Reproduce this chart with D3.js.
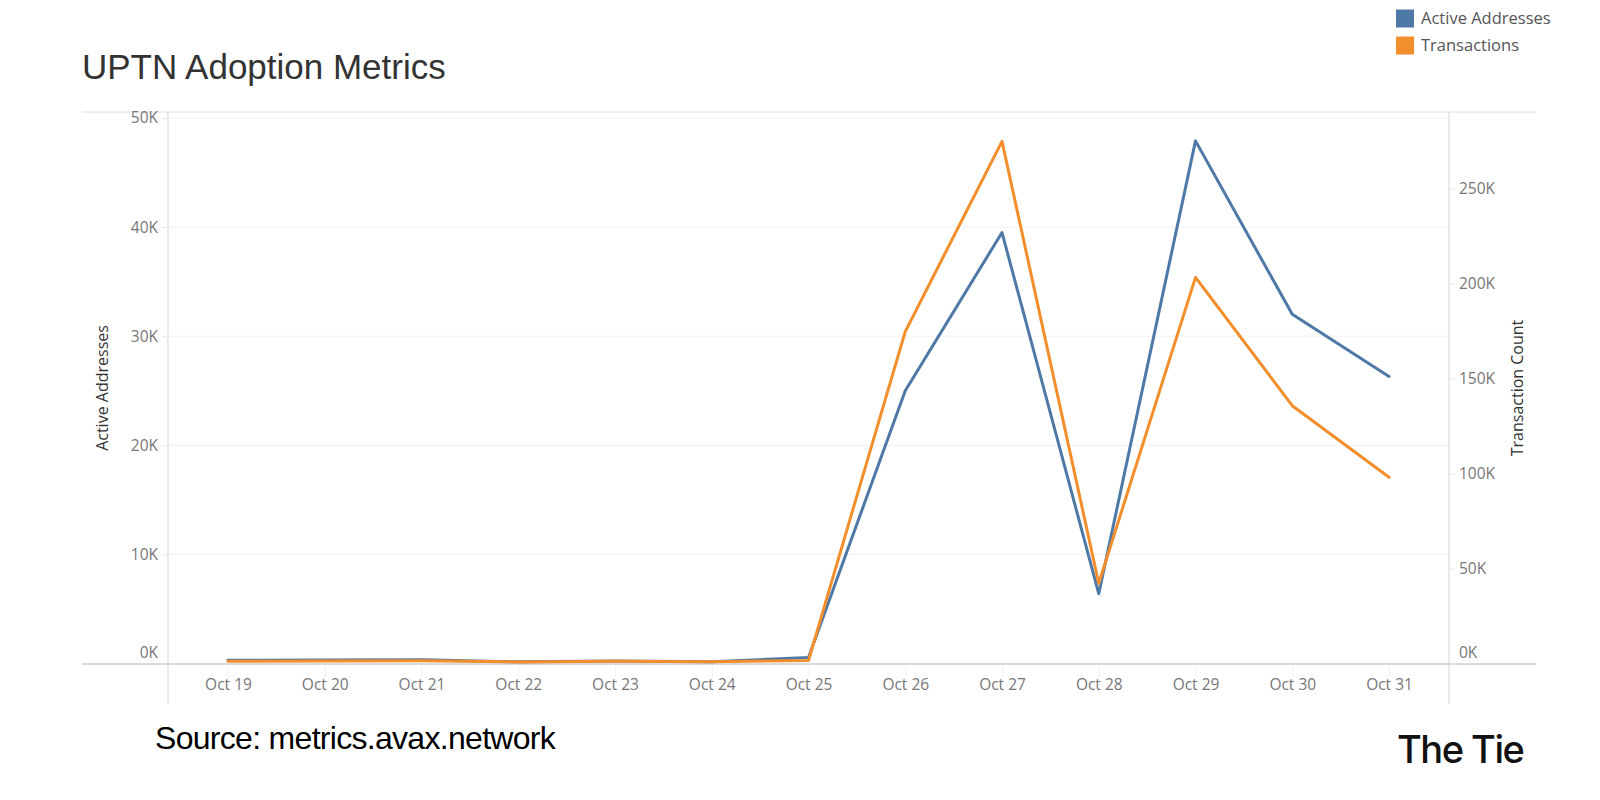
<!DOCTYPE html>
<html>
<head>
<meta charset="utf-8">
<script src="https://cdn.jsdelivr.net/npm/d3@7/dist/d3.min.js"></script>
<style>
  html, body { margin: 0; padding: 0; background: #fff; }
  svg { display: block; }
</style>
</head>
<body>
<svg id="chart" width="1600" height="800"></svg>
<script>
// ---- Data ----
const dates = ["Oct 19","Oct 20","Oct 21","Oct 22","Oct 23","Oct 24","Oct 25","Oct 26","Oct 27","Oct 28","Oct 29","Oct 30","Oct 31"];
const activeAddresses = [300, 320, 350, 150, 220, 160, 550, 25000, 39500, 6400, 47900, 32000, 26300];
const transactions = [1200, 1300, 1500, 800, 1200, 900, 1600, 174700, 274800, 42100, 203200, 135700, 98000];
const leftTicks = [0, 10000, 20000, 30000, 40000, 50000];
const rightTicks = [0, 50000, 100000, 150000, 200000, 250000];
const seriesNames = ["Active Addresses", "Transactions"];
const seriesColors = ["#4e79a7", "#f28e2b"];

// ---- Layout ----
const frameLeft = 82, frameRight = 1536;
const plotLeft = 168, plotRight = 1449;
const plotTop = 112.5, plotBottom = 663.5, axisBottom = 704;
const tickFont = "'Open Sans', Lato, sans-serif";
const tickSize = 15.5;

const svg = d3.select("#chart");

const x = d3.scalePoint().domain(dates).range([plotLeft, plotRight]).padding(0.62);
const yL = d3.scaleLinear().domain([0, 50500]).range([plotBottom, plotTop]);
const yR = d3.scaleLinear().domain([0, 290000]).range([plotBottom, plotTop]);
const fmtK = d => (d / 1000) + "K";

// Title
svg.append("text")
  .attr("x", 82).attr("y", 79)
  .attr("font-family", "'Liberation Sans', Arial, sans-serif")
  .attr("font-size", 35)
  .attr("fill", "#333")
  .text("UPTN Adoption Metrics");

// Legend
const legend = svg.append("g");
seriesNames.forEach((name, i) => {
  legend.append("rect")
    .attr("x", 1396).attr("y", 9.5 + i * 27)
    .attr("width", 18).attr("height", 18)
    .attr("fill", seriesColors[i]);
  legend.append("text")
    .attr("x", 1421).attr("y", 18.5 + i * 27)
    .attr("dy", "0.35em")
    .attr("font-family", tickFont)
    .attr("font-size", 16.5)
    .attr("fill", "#555")
    .text(name);
});

// Gridlines (left axis)
svg.append("g").selectAll("line")
  .data(leftTicks.filter(d => d > 0))
  .join("line")
  .attr("x1", plotLeft).attr("x2", plotRight)
  .attr("y1", d => yL(d)).attr("y2", d => yL(d))
  .attr("stroke", "#f0f0f0").attr("stroke-width", 1);

// Frame lines
svg.append("line").attr("x1", frameLeft).attr("x2", frameRight)
  .attr("y1", plotTop - 0.5).attr("y2", plotTop - 0.5)
  .attr("stroke", "#dcdcdc").attr("stroke-width", 1);
svg.append("line").attr("x1", plotLeft).attr("x2", plotLeft)
  .attr("y1", plotTop - 0.5).attr("y2", axisBottom)
  .attr("stroke", "#d4d4d4").attr("stroke-width", 1);
svg.append("line").attr("x1", plotRight).attr("x2", plotRight)
  .attr("y1", plotTop - 0.5).attr("y2", axisBottom)
  .attr("stroke", "#d4d4d4").attr("stroke-width", 1);

// Left axis
const leftAxis = svg.append("g")
  .attr("transform", `translate(${plotLeft},0)`)
  .call(d3.axisLeft(yL).tickValues(leftTicks).tickFormat(fmtK).tickSize(6).tickPadding(4));
leftAxis.select(".domain").remove();
leftAxis.selectAll(".tick line").attr("stroke", "#e6e6e6");
leftAxis.selectAll(".tick text")
  .attr("font-family", tickFont).attr("font-size", tickSize).attr("fill", "#777")
  .attr("dy", d => d === 0 ? "-0.4em" : "0.32em");
leftAxis.selectAll(".tick").filter(d => d === 0).select("line").remove();

// Right axis
const rightAxis = svg.append("g")
  .attr("transform", `translate(${plotRight},0)`)
  .call(d3.axisRight(yR).tickValues(rightTicks).tickFormat(fmtK).tickSize(6).tickPadding(4));
rightAxis.select(".domain").remove();
rightAxis.selectAll(".tick line").attr("stroke", "#e6e6e6");
rightAxis.selectAll(".tick text")
  .attr("font-family", tickFont).attr("font-size", tickSize).attr("fill", "#777")
  .attr("dy", d => d === 0 ? "-0.4em" : "0.32em");
rightAxis.selectAll(".tick").filter(d => d === 0).select("line").remove();

// Bottom axis
const bottomAxis = svg.append("g")
  .attr("transform", `translate(0,${plotBottom})`)
  .call(d3.axisBottom(x).tickSize(14).tickPadding(2));
bottomAxis.select(".domain").remove();
bottomAxis.selectAll(".tick line").attr("stroke", "#f2f2f2");
bottomAxis.selectAll(".tick text")
  .attr("font-family", tickFont).attr("font-size", tickSize).attr("fill", "#777")
  .attr("y", 21).attr("dy", "0.35em");

// Baseline
svg.append("line").attr("x1", frameLeft).attr("x2", frameRight)
  .attr("y1", plotBottom + 0.5).attr("y2", plotBottom + 0.5)
  .attr("stroke", "#cfcfcf").attr("stroke-width", 1.5);

// Axis titles
svg.append("text")
  .attr("transform", `translate(102,388) rotate(-90)`)
  .attr("text-anchor", "middle").attr("dy", "0.35em")
  .attr("font-family", tickFont).attr("font-size", 16).attr("fill", "#333")
  .text("Active Addresses");
svg.append("text")
  .attr("transform", `translate(1517,388) rotate(-90)`)
  .attr("text-anchor", "middle").attr("dy", "0.35em")
  .attr("font-family", tickFont).attr("font-size", 16).attr("fill", "#333")
  .text("Transaction Count");

// Lines
const lineL = d3.line().x((d, i) => x(dates[i])).y(d => yL(d));
const lineR = d3.line().x((d, i) => x(dates[i])).y(d => yR(d));
svg.append("path").datum(activeAddresses)
  .attr("d", lineL).attr("fill", "none")
  .attr("stroke", seriesColors[0]).attr("stroke-width", 3)
  .attr("stroke-linejoin", "round").attr("stroke-linecap", "round");
svg.append("path").datum(transactions)
  .attr("d", lineR).attr("fill", "none")
  .attr("stroke", seriesColors[1]).attr("stroke-width", 3)
  .attr("stroke-linejoin", "round").attr("stroke-linecap", "round");

// Source
svg.append("text")
  .attr("x", 155).attr("y", 749)
  .attr("font-family", "'Liberation Sans', Arial, sans-serif")
  .attr("font-size", 32).attr("letter-spacing", -0.7)
  .attr("fill", "#000")
  .text("Source: metrics.avax.network");

// Logo
svg.append("text")
  .attr("x", 1397).attr("y", 763)
  .attr("font-family", "Inter, 'Liberation Sans', sans-serif")
  .attr("font-size", 38).attr("font-weight", 500).attr("letter-spacing", -1.5)
  .attr("fill", "#111")
  .text("The Tie");
</script>
</body>
</html>
